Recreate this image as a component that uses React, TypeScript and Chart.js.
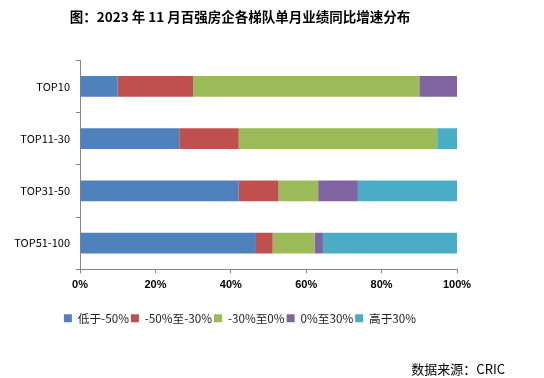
import React, { useEffect, useRef } from "react";
import { Chart, registerables } from "chart.js";

Chart.register(...registerables);

const categories = ["TOP10", "TOP11-30", "TOP31-50", "TOP51-100"];
const seriesNames = ["低于-50%", "-50%至-30%", "-30%至0%", "0%至30%", "高于30%"];
const below50 = [10, 26.32, 42.11, 46.67];
const m50to30 = [20, 15.79, 10.53, 4.44];
const m30to0 = [60, 52.63, 10.53, 11.11];
const p0to30 = [10, 0, 10.53, 2.22];
const above30 = [0, 5.26, 26.32, 35.56];
const xTicks = [0, 20, 40, 60, 80, 100];
const colors = ["#4F81BD", "#C0504D", "#9BBB59", "#8064A2", "#4BACC6"];
const titleText = "图：2023 年 11 月百强房企各梯队单月业绩同比增速分布";
const sourceText = "数据来源：CRIC";

const AXIS = "#868686";

const sourcePlugin = {
  id: "sourceText",
  afterDraw(chart: any) {
    const ctx = chart.ctx;
    ctx.save();
    ctx.font = "13px 'Noto Sans CJK SC'";
    ctx.fillStyle = "#000";
    ctx.textAlign = "right";
    ctx.textBaseline = "middle";
    ctx.fillText(sourceText, 505, 369);
    ctx.restore();
  },
};

export default function App() {
  const ref = useRef<HTMLCanvasElement | null>(null);
  useEffect(() => {
    if (!ref.current) return;
    const seriesData = [below50, m50to30, m30to0, p0to30, above30];
    const chart = new Chart(ref.current, {
      type: "bar",
      data: {
        labels: categories,
        datasets: seriesNames.map((name, i) => ({
          label: name,
          data: seriesData[i],
          backgroundColor: colors[i],
          borderWidth: 0,
          categoryPercentage: 0.8,
          barPercentage: 0.5,
        })),
      },
      options: {
        indexAxis: "y",
        responsive: false,
        animation: false,
        devicePixelRatio: 1,
        layout: { padding: { left: 9, right: 73, top: 0, bottom: 44 } },
        plugins: {
          tooltip: { enabled: false },
          title: {
            display: true,
            text: titleText,
            color: "#000",
            font: { family: "'Noto Sans CJK SC'", size: 13.5, weight: "bold" },
            padding: { top: 9, bottom: 35 },
          },
          legend: {
            position: "bottom",
            labels: {
              boxWidth: 8,
              boxHeight: 8,
              padding: 2,
              color: "#222",
              font: { family: "'Noto Sans CJK SC'", size: 11.7 },
            },
          },
        },
        scales: {
          x: {
            stacked: true,
            min: 0,
            max: 100,
            afterBuildTicks: (scale: any) => {
              scale.ticks = xTicks.map((v) => ({ value: v }));
            },
            afterFit: (scale: any) => {
              scale.height = 41;
              scale.paddingRight = 87;
            },
            ticks: {
              padding: 5,
              color: "#000",
              font: { family: "'Liberation Sans'", size: 11, weight: "bold" },
              callback: (v: any) => v + "%",
            },
            grid: { drawOnChartArea: false, drawTicks: true, tickLength: 4, color: AXIS },
            border: { color: AXIS },
          },
          y: {
            stacked: true,
            afterFit: (scale: any) => {
              scale.width = 71;
            },
            ticks: {
              padding: 6,
              color: "#000",
              font: { family: "'Noto Sans CJK SC'", size: 11 },
            },
            grid: { drawOnChartArea: false, drawTicks: true, tickLength: 4, color: AXIS, offset: true },
            border: { color: AXIS },
          },
        },
      },
      plugins: [sourcePlugin],
    } as any);
    return () => chart.destroy();
  }, []);
  return (
    <div style={{ position: "absolute", left: 0, top: 0, width: 544, height: 378, background: "#fff" }}>
      <canvas ref={ref} width={544} height={378} style={{ display: "block" }} />
    </div>
  );
}
